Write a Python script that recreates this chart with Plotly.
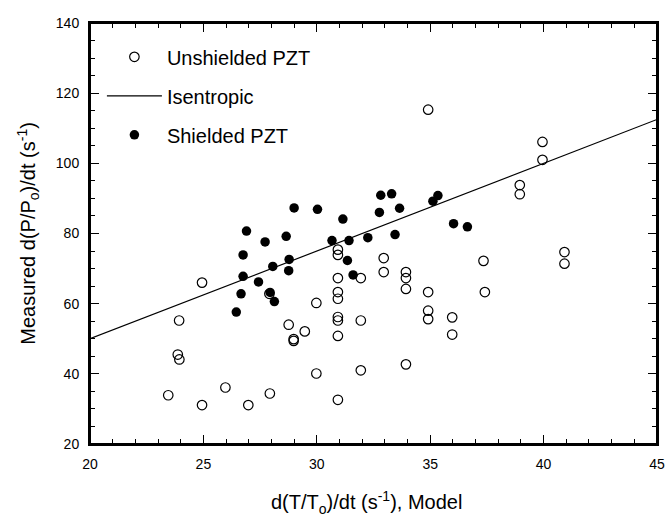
import plotly.graph_objects as go

# Unshielded PZT (open circles)
unshielded_x = [23.45, 23.87, 23.94, 23.93, 24.94, 24.94, 25.97, 26.98, 27.93, 27.91,
                28.76, 28.98, 28.98, 29.47, 29.98, 29.98,
                30.93, 30.93, 30.93, 30.93, 30.93, 30.93, 30.93, 30.93, 30.93,
                31.94, 31.94, 31.94,
                32.95, 32.95,
                33.93, 33.93, 33.93, 33.93,
                34.91, 34.91, 34.91, 34.91,
                35.97, 35.97,
                37.35, 37.41,
                38.95, 38.95,
                39.95, 39.95,
                40.92, 40.92]
unshielded_y = [33.9, 45.5, 44.1, 55.2, 66.0, 31.1, 36.1, 31.1, 34.4, 62.8,
                54.0, 49.9, 49.4, 52.1, 60.2, 40.1,
                75.4, 73.9, 67.3, 63.3, 61.4, 56.2, 55.2, 50.8, 32.6,
                67.3, 55.2, 41.0,
                73.0, 69.0,
                69.0, 67.3, 64.2, 42.7,
                115.3, 63.3, 58.0, 55.6,
                56.1, 51.2,
                72.2, 63.3,
                93.8, 91.2,
                106.1, 101.0,
                74.7, 71.4]

# Isentropic line (endpoints)
iso_x = [20, 45]
iso_y = [50, 112.5]

# Shielded PZT (filled circles)
shielded_x = [26.45, 26.66, 26.75, 26.75, 26.90, 27.43, 27.72, 27.94, 28.06, 28.13,
              28.65, 28.76, 28.78, 29.00, 30.03, 30.67, 31.15, 31.35, 31.42, 31.60,
              32.25, 32.76, 32.82, 33.30, 33.45, 33.65, 35.12, 35.34, 36.03, 36.64]
shielded_y = [57.6, 62.8, 67.8, 73.9, 80.7, 66.2, 77.6, 63.2, 70.6, 60.6,
              79.2, 69.4, 72.6, 87.3, 86.9, 78.0, 84.1, 72.3, 78.0, 68.2,
              78.8, 86.0, 90.9, 91.3, 79.7, 87.2, 89.2, 90.8, 82.8, 81.9]

FONT = "Liberation Sans, Arial, sans-serif"

fig = go.Figure()
fig.add_trace(go.Scatter(
    x=unshielded_x, y=unshielded_y, mode="markers", name="Unshielded PZT",
    legendgroup="a",
    marker=dict(symbol="circle-open", size=9.5, color="black", line=dict(width=1.2)),
))
fig.add_trace(go.Scatter(
    x=iso_x, y=iso_y, mode="lines", name="Isentropic", legendgroup="b",
    line=dict(color="black", width=1.2),
))
fig.add_trace(go.Scatter(
    x=shielded_x, y=shielded_y, mode="markers", name="Shielded PZT",
    legendgroup="c",
    marker=dict(symbol="circle", size=9.5, color="black"),
))

axis_common = dict(
    showline=True, linecolor="black", linewidth=2, mirror="allticks",
    ticks="inside", ticklen=9, tickwidth=1.4, tickcolor="black",
    showgrid=False, zeroline=False, automargin=False,
    tickfont=dict(family=FONT, size=14, color="black"),
)

fig.update_xaxes(
    range=[20, 45], dtick=5, tick0=20,
    minor=dict(dtick=1, ticks="inside", ticklen=5, tickwidth=1.2, tickcolor="black", showgrid=False),
    ticklabelstandoff=6,
    **axis_common,
)
fig.update_yaxes(
    range=[20, 140], dtick=20, tick0=20,
    minor=dict(dtick=5, ticks="inside", ticklen=5, tickwidth=1.2, tickcolor="black", showgrid=False),
    ticklabelstandoff=6,
    **axis_common,
)

fig.add_annotation(
    text="d(T/T<sub>o</sub>)/dt (s<sup>-1</sup>), Model",
    xref="paper", yref="paper", x=0.487, y=-0.139, xanchor="center", yanchor="middle",
    showarrow=False, font=dict(family=FONT, size=20, color="black"),
)
fig.add_annotation(
    text="Measured d(P/P<sub>o</sub>)/dt (s<sup>-1</sup>)",
    xref="paper", yref="paper", x=-0.109, y=0.5, xanchor="center", yanchor="middle",
    textangle=-90, showarrow=False, font=dict(family=FONT, size=20, color="black"),
)

# plot frame
fig.add_shape(type="rect", xref="paper", yref="paper", x0=0, y0=0, x1=1, y1=1,
              line=dict(color="black", width=2), fillcolor="rgba(0,0,0,0)", layer="above")

fig.update_layout(
    template="none",
    width=666, height=514, autosize=False,
    margin=dict(l=90, r=9, t=23, b=70, autoexpand=False),
    paper_bgcolor="white", plot_bgcolor="white",
    showlegend=True,
    legend=dict(
        x=0.021, y=0.966, xanchor="left", yanchor="top",
        bgcolor="rgba(0,0,0,0)", borderwidth=0,
        font=dict(family=FONT, size=20, color="black"),
        tracegroupgap=10, itemwidth=55,
    ),
)

fig.write_html(
    "out.html",
    config={"displayModeBar": False, "responsive": False},
    post_script="document.body.style.margin='0';document.body.style.overflow='hidden';",
)
